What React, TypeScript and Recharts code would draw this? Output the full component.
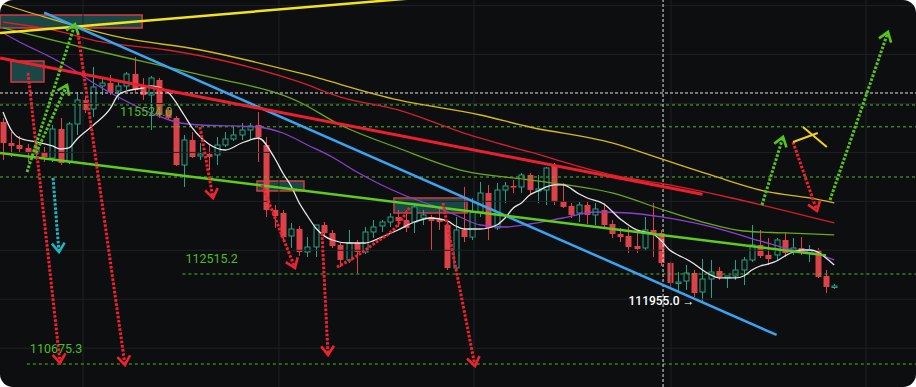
import {
  Bar,
  ComposedChart,
  Line,
  ReferenceArea,
  ReferenceDot,
  ReferenceLine,
  XAxis,
  YAxis
} from "recharts";

const W = 916;
const H = 387;
const BG = "#0d0e10";
const UP = "#25a386";
const DOWN = "#dc4349";
const LEVEL = "#4cbd22";
const FONT = "Roboto, sans-serif";
const BODY = 6;

const X_DOMAIN: [number, number] = [-0.365, 110.935];
const Y_DOMAIN: [number, number] = [110205.5, 118115.8];

// candles, left to right
const opens = [
  115622, 115193, 115152, 115091, 114989, 115009, 114886, 115479, 114805, 115581,
  116072, 115888, 116358, 116419, 116256, 116358, 116603, 116358, 116174, 116481,
  115868, 115704, 114743, 115254, 114927, 114968, 114948, 115152, 115275, 115357,
  115459, 115561, 115152, 113824, 113762, 113292, 113435, 112965, 113067, 113517,
  113353, 113108, 112802, 113149, 112965, 113374, 113497, 113578, 113681, 113619,
  113578, 113660, 113681, 113640, 113517, 112638, 113415, 113271, 113783, 114171,
  113456, 114232, 114314, 114294, 114539, 114212, 114232, 114743, 114008, 113905,
  113762, 113926, 113722, 113824, 113537, 113333, 113292, 113088, 113047, 113415,
  113353, 112740, 112331, 112372, 112536, 112147, 112413, 112577, 112434, 112475,
  112597, 112802, 113108, 112904, 112904, 113210, 112986, 113047, 112945, 113006,
  112475, 112250
];
const highs = [
  115704, 115418, 115336, 115173, 115234, 115111, 115561, 115704, 115622, 116236,
  116154, 116747, 116542, 116583, 116481, 116644, 116951, 116522, 116563, 116522,
  115908, 115745, 115357, 115418, 115193, 115152, 115316, 115418, 115520, 115602,
  115602, 115827, 115316, 113926, 113824, 113558, 113497, 113271, 113517, 113578,
  113415, 113149, 113415, 113210, 113476, 113619, 113619, 113762, 113824, 113824,
  113967, 113824, 113722, 113885, 113578, 113681, 114294, 114069, 114396, 114335,
  114376, 114396, 114437, 114580, 114580, 114539, 114702, 114784, 114376, 113967,
  113987, 113987, 113967, 113967, 113619, 113456, 113476, 113353, 113681, 113967,
  113415, 112761, 112556, 112699, 112597, 112822, 112802, 112658, 112475, 112802,
  112863, 113517, 113415, 113251, 113251, 113374, 113251, 113271, 113108, 113047,
  112597, 112311
];
const lows = [
  114846, 114907, 115009, 114805, 114846, 114805, 114805, 114743, 114764, 115357,
  115806, 115724, 116174, 116174, 116072, 116276, 116236, 116072, 115459, 115704,
  115663, 114723, 114294, 114886, 114846, 114641, 114743, 115111, 115234, 115254,
  115254, 114805, 113681, 113456, 113210, 113047, 112883, 112863, 112863, 113292,
  113047, 112658, 112740, 112536, 112924, 113251, 113374, 113476, 113476, 113374,
  113353, 113517, 113006, 113415, 112597, 112597, 113169, 113210, 113681, 113210,
  113415, 113967, 114171, 114171, 114130, 113967, 113926, 113926, 113864, 113660,
  113578, 113537, 113517, 113476, 113251, 113169, 112945, 112945, 113006, 112863,
  112679, 112229, 112127, 112188, 112045, 111955, 112025, 112393, 112229, 112393,
  112290, 112761, 112842, 112699, 112802, 112863, 112904, 112904, 112761, 112434,
  112127, 112209
];
const closes = [
  115193, 115132, 115070, 114989, 115070, 114907, 115479, 114784, 115581, 116072,
  115868, 116338, 116419, 116236, 116358, 116603, 116276, 116174, 116522, 115765,
  115704, 114743, 115254, 114907, 114968, 114907, 115152, 115275, 115357, 115459,
  115541, 115316, 113824, 113701, 113271, 113435, 112965, 113067, 113517, 113353,
  113088, 112802, 113149, 112965, 113374, 113476, 113578, 113681, 113599, 113456,
  113885, 113722, 113599, 113578, 112638, 113415, 113271, 113783, 114171, 113456,
  114232, 114314, 114294, 114539, 114232, 114253, 114682, 113987, 113885, 113722,
  113926, 113722, 113844, 113517, 113333, 113271, 113067, 113026, 113415, 113312,
  112740, 112331, 112352, 112536, 112127, 112413, 112556, 112454, 112475, 112597,
  112802, 113108, 112883, 112822, 113210, 112945, 113047, 112945, 113006, 112454,
  112250, 112270
];

// moving averages: [candle index, price]
const maWhite: [number, number][] = [
  [0, 115827], [1, 115459], [2, 115295], [4, 115214], [6, 115132], [7, 115070], [8, 115091],
  [9, 115275], [11, 115561], [13, 115888], [14, 116174], [15, 116256], [17, 116317], [18, 116358],
  [20, 116236], [22, 115765], [23, 115500], [25, 115173], [27, 115050], [29, 115193], [30, 115254],
  [31, 115295], [33, 114886], [34, 114580], [35, 114314], [36, 113967], [37, 113701], [38, 113456],
  [40, 113210], [42, 113149], [44, 113149], [46, 113271], [48, 113415], [50, 113578], [52, 113660],
  [54, 113599], [55, 113497], [56, 113435], [58, 113435], [60, 113517], [61, 113660], [62, 113864],
  [63, 113967], [64, 114130], [65, 114212], [66, 114294], [67, 114335], [68, 114335], [70, 114151],
  [71, 114069], [73, 113946], [75, 113640], [77, 113415], [78, 113374], [79, 113333], [80, 113190],
  [81, 113006], [82, 112904], [83, 112822], [84, 112720], [85, 112597], [86, 112495], [87, 112434],
  [89, 112434], [90, 112475], [91, 112597], [92, 112679], [93, 112720], [94, 112781], [95, 112883],
  [96, 112965], [97, 113006], [98, 113006], [99, 112965], [100, 112842], [101, 112699]
];
const maPurple: [number, number][] = [
  [0, 117441], [2, 117258], [6, 116930], [9, 116644], [11, 116419], [14, 116133], [18, 115806],
  [21, 115622], [24, 115561], [28, 115541], [31, 115520], [34, 115397], [37, 115152], [40, 114907],
  [43, 114600], [46, 114335], [49, 114110], [52, 113926], [55, 113721], [58, 113517], [61, 113476],
  [64, 113537], [68, 113660], [72, 113783], [76, 113762], [80, 113681], [84, 113558], [88, 113394],
  [92, 113190], [96, 113006], [99, 112924], [101, 112802]
];
const maGreen: [number, number][] = [
  [0, 117544], [5, 117339], [12, 117053], [24, 116583], [36, 116031], [41, 115561], [48, 115091],
  [56, 114621], [64, 114437], [74, 114171], [81, 113783], [85, 113578], [90, 113394], [95, 113354],
  [101, 113313]
];
const maRed: [number, number][] = [
  [0, 117666], [6, 117503], [12, 117258], [20, 117094], [28, 116828], [36, 116440], [41, 116133],
  [48, 115868], [56, 115397], [64, 115009], [74, 114539], [81, 114335], [88, 114089], [101, 113558]
];
const maYellow: [number, number][] = [
  [0, 118034], [5, 117769], [14, 117360], [24, 117094], [36, 116624], [48, 116072], [58, 115765],
  [64, 115520], [74, 115193], [80, 114866], [86, 114539], [93, 114192], [98, 114069], [101, 113967]
];

// drawn trend lines: [start, end] as [index, price]
const trendYellow = [[-0.36, 117441], [51, 118169]];
const trendBlue = [[5, 117856], [94, 111269]];
const trendRed = [[-0.36, 116930], [85, 114145]];
const trendGreen = [[-0.36, 114989], [100, 112896]];

const gridPrices = [118000, 117000, 116000, 115000, 114000, 113000, 112000, 111000];
const gridIndexes = [9.72, 33.53, 57.23, 81.17, 104.86];

const plainLevels = [115970, 114498];
const labeledLevels = [
  { value: 115524.0, from: 13.85, text: "115524.0" },
  { value: 112515.2, from: 21.8, text: "112515.2" },
  { value: 110675.3, from: 2.9, text: "110675.3" }
];
const crossIndex = 80.2;
const crossPrice = 116215;
const lastLow = { i: 85, price: 111955.0, text: "111955.0 →" };

const boxes = [
  { i1: -0.36, i2: 16.9, p1: 117809, p2: 117544 },
  { i1: 0.97, i2: 4.98, p1: 116869, p2: 116440 },
  { i1: 30.86, i2: 36.57, p1: 114416, p2: 114212 },
  { i1: 47.5, i2: 56.38, p1: 114069, p2: 113762 }
];

const redArrows = [
  [[3.04, 116624], [6.93, 110696]],
  [[9.11, 117441], [14.82, 110655]],
  [[23.94, 115520], [25.52, 114069]],
  [[31.47, 114335], [35.48, 112638]],
  [[38.76, 113353], [39.49, 110860]],
  [[53.46, 113967], [57.35, 110635]],
  [[95.99, 115213], [98.91, 113803]]
];
const greenArrows = [
  [[2.92, 114600], [8.75, 117625]],
  [[4.01, 114989], [7.78, 116379]],
  [[92.22, 113926], [94.78, 115316]],
  [[100.49, 114028], [107.53, 117462]]
];
const tealArrows = [[[6.08, 114478], [6.8, 112965]]];
const redCurve: [number, number][] = [
  [40.58, 112658], [42.77, 112863], [45.2, 113149], [47.63, 113456], [49.45, 113885]
];
const crossMark = [
  [[97.2, 115520], [100.1, 115111]],
  [[96.0, 115213], [99.0, 115397]]
];

const candles = opens.map((o, i) => ({
  i,
  o,
  h: highs[i],
  l: lows[i],
  c: closes[i],
  range: [lows[i], highs[i]]
}));

const pts = (arr: [number, number][]) => arr.map(([i, v]) => ({ i, v }));
const seg = (s: number[][]) => [
  { x: s[0][0], y: s[0][1] },
  { x: s[1][0], y: s[1][1] }
];

function Candle(props: any) {
  const { x, y, width, height, payload } = props;
  if (!payload) return null;
  const { o, h, l, c } = payload;
  const top = Math.min(y, y + height);
  const span = Math.abs(height);
  const py = (v: number) => (h === l ? top : top + ((h - v) / (h - l)) * span);
  const up = c >= o;
  const color = up ? UP : DOWN;
  const cx = Math.round(x + width / 2) + 0.5;
  const bTop = py(Math.max(o, c));
  const bh = Math.max(1.5, py(Math.min(o, c)) - bTop);
  const left = cx - BODY / 2;
  return (
    <g>
      <line x1={cx} x2={cx} y1={top} y2={top + span} stroke={color} strokeWidth={1} />
      {up ? (
        <rect x={left + 0.5} y={bTop} width={BODY - 1} height={bh} fill={BG} stroke={color} strokeWidth={1} />
      ) : (
        <rect x={left} y={bTop} width={BODY} height={bh} fill={color} />
      )}
    </g>
  );
}

function arrowShape(props: any) {
  const { x1, y1, x2, y2, stroke } = props;
  const a = Math.atan2(y2 - y1, x2 - x1);
  const len = 11;
  const spread = 0.62;
  const hx1 = x2 - len * Math.cos(a - spread);
  const hy1 = y2 - len * Math.sin(a - spread);
  const hx2 = x2 - len * Math.cos(a + spread);
  const hy2 = y2 - len * Math.sin(a + spread);
  return (
    <g>
      <line x1={x1} y1={y1} x2={x2} y2={y2} stroke={stroke} strokeWidth={3} strokeDasharray="2.6 1.6" />
      <polyline
        points={`${hx1},${hy1} ${x2},${y2} ${hx2},${hy2}`}
        fill="none"
        stroke={stroke}
        strokeWidth={2.6}
      />
    </g>
  );
}

export default function App() {
  return (
    <div
      style={{
        position: "absolute",
        left: 0,
        top: 0,
        width: W,
        height: H,
        background: BG,
        borderRadius: 13,
        overflow: "hidden"
      }}
    >
      <ComposedChart width={W} height={H} data={candles} margin={{ top: 0, right: 0, bottom: 0, left: 0 }}>
        <XAxis type="number" dataKey="i" domain={X_DOMAIN} allowDataOverflow hide />
        <YAxis type="number" domain={Y_DOMAIN} allowDataOverflow hide />

        {gridPrices.map((p) => (
          <ReferenceLine key={`gy${p}`} y={p} stroke="#1f2126" strokeWidth={1} />
        ))}
        {gridIndexes.map((i) => (
          <ReferenceLine key={`gx${i}`} x={i} stroke="#1f2126" strokeWidth={1} />
        ))}

        {plainLevels.map((p) => (
          <ReferenceLine key={`lv${p}`} y={p} stroke={LEVEL} strokeWidth={1} strokeDasharray="3 3" />
        ))}
        {labeledLevels.map((l) => (
          <ReferenceLine
            key={`ll${l.value}`}
            segment={[{ x: l.from, y: l.value }, { x: X_DOMAIN[1], y: l.value }]}
            stroke={LEVEL}
            strokeWidth={1}
            strokeDasharray="3 3"
          />
        ))}
        <ReferenceLine y={crossPrice} stroke="#e2e2e2" strokeWidth={1} strokeDasharray="3 2" />
        <ReferenceLine x={crossIndex} stroke="#e2e2e2" strokeWidth={1} strokeDasharray="3 2" />

        <Bar dataKey="range" barSize={6} shape={<Candle />} isAnimationActive={false} />

        <Line data={pts(maYellow)} dataKey="v" type="monotone" stroke="#d8b91c" strokeWidth={1.3} dot={false} activeDot={false} isAnimationActive={false} />
        <Line data={pts(maRed)} dataKey="v" type="monotone" stroke="#d61f2c" strokeWidth={1.3} dot={false} activeDot={false} isAnimationActive={false} />
        <Line data={pts(maGreen)} dataKey="v" type="monotone" stroke="#6aa81c" strokeWidth={1.3} dot={false} activeDot={false} isAnimationActive={false} />
        <Line data={pts(maPurple)} dataKey="v" type="monotone" stroke="#8b3fd0" strokeWidth={1.3} dot={false} activeDot={false} isAnimationActive={false} />
        <Line data={pts(maWhite)} dataKey="v" type="monotone" stroke="#e9e9e9" strokeWidth={1.3} dot={false} activeDot={false} isAnimationActive={false} />

        <ReferenceLine segment={seg(trendYellow)} stroke="#f3e21c" strokeWidth={2.5} ifOverflow="visible" />
        <ReferenceLine segment={seg(trendBlue)} stroke="#3aa4f0" strokeWidth={2.5} ifOverflow="visible" />
        <ReferenceLine segment={seg(trendRed)} stroke="#ee1f2d" strokeWidth={3} ifOverflow="visible" />
        <ReferenceLine segment={seg(trendGreen)} stroke="#5dcc1c" strokeWidth={2.5} ifOverflow="visible" />

        {boxes.map((b, k) => (
          <ReferenceArea
            key={`bx${k}`}
            x1={b.i1}
            x2={b.i2}
            y1={b.p1}
            y2={b.p2}
            fill="#1f6e69"
            fillOpacity={0.6}
            stroke="#d43b41"
            strokeWidth={1.5}
            ifOverflow="visible"
          />
        ))}

        <Line
          data={pts(redCurve)}
          dataKey="v"
          type="monotone"
          stroke="#ef222f"
          strokeWidth={3}
          strokeDasharray="2.6 1.6"
          dot={false}
          activeDot={false}
          isAnimationActive={false}
        />
        {redArrows.map((a, k) => (
          <ReferenceLine key={`ra${k}`} segment={seg(a)} stroke="#ef222f" shape={arrowShape} ifOverflow="visible" />
        ))}
        {greenArrows.map((a, k) => (
          <ReferenceLine key={`ga${k}`} segment={seg(a)} stroke="#56c41f" shape={arrowShape} ifOverflow="visible" />
        ))}
        {tealArrows.map((a, k) => (
          <ReferenceLine key={`ta${k}`} segment={seg(a)} stroke="#1db6c2" shape={arrowShape} ifOverflow="visible" />
        ))}
        {crossMark.map((a, k) => (
          <ReferenceLine key={`cm${k}`} segment={seg(a)} stroke="#f2d31b" strokeWidth={2} ifOverflow="visible" />
        ))}

        {labeledLevels.map((l) => (
          <ReferenceDot
            key={`lt${l.value}`}
            x={l.from}
            y={l.value}
            r={0}
            ifOverflow="visible"
            shape={(p: any) => (
              <text x={p.cx + 3} y={p.cy - 11} fill={LEVEL} fontSize={12.5} fontFamily={FONT}>
                {l.text}
              </text>
            )}
          />
        ))}
        <ReferenceDot
          x={lastLow.i}
          y={lastLow.price}
          r={0}
          ifOverflow="visible"
          shape={(p: any) => (
            <text
              x={p.cx - 8}
              y={p.cy + 4}
              fill="#ffffff"
              fontSize={12}
              fontWeight={500}
              fontFamily={FONT}
              textAnchor="end"
            >
              {lastLow.text}
            </text>
          )}
        />
      </ComposedChart>
    </div>
  );
}
